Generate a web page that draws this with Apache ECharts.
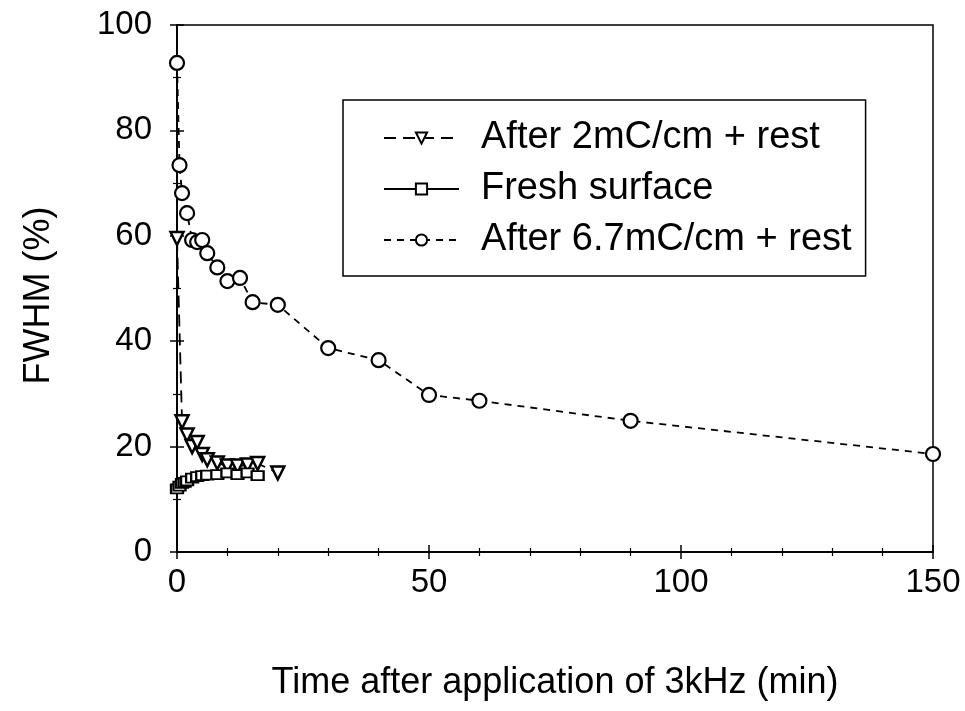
<!DOCTYPE html>
<html>
<head>
<meta charset="utf-8">
<script src="https://cdn.jsdelivr.net/npm/echarts@6/dist/echarts.min.js"></script>
<style>
  html, body { margin: 0; padding: 0; background: #fff; }
  #chart { width: 965px; height: 711px; }
</style>
</head>
<body>
<div id="chart"></div>
<script>
// After 2mC/cm + rest (down triangles)
var tri_t = [0, 1, 2, 3, 4, 5, 6, 8, 10, 12, 14, 16, 20];
var tri_v = [59.5, 24.7, 22.2, 20, 20.8, 18.5, 17.5, 16.9, 16.3, 16.3, 16.5, 16.8, 15];

// Fresh surface (squares)
var sq_t = [0, 0.5, 1, 1.5, 2, 3, 4, 5, 6, 8, 10, 12, 14, 16];
var sq_v = [12, 12.5, 13, 13.2, 13.5, 14, 14.3, 14.5, 14.6, 14.7, 15, 14.7, 15, 14.5];

// After 6.7mC/cm + rest (circles)
var circ_t = [0, 0.5, 1, 2, 3, 4, 5, 6, 8, 10, 12.5, 15, 20, 30, 40, 50, 60, 90, 150];
var circ_v = [92.8, 73.4, 68.1, 64.3, 59.2, 58.8, 59.2, 56.7, 54, 51.4, 52, 47.4, 46.9, 38.7, 36.4, 29.8, 28.7, 24.9, 18.6];

var names = ['After 2mC/cm + rest', 'Fresh surface', 'After 6.7mC/cm + rest'];

function pairs(t, v) {
    var out = [];
    for (var i = 0; i < t.length; i++) out.push([t[i], v[i]]);
    return out;
}

var font = 'Liberation Sans';
var chart = echarts.init(document.getElementById('chart'));

var tickStyle = { inside: true, length: 7, lineStyle: { color: '#000', width: 1.5 } };
var minorStyle = { show: true, length: 4, lineStyle: { color: '#000', width: 1.2 } };

chart.setOption({
    animation: false,
    backgroundColor: '#fff',
    textStyle: { fontFamily: font, color: '#000' },
    grid: {
        left: 177, right: 32, top: 25, bottom: 159,
        show: true, borderColor: '#000', borderWidth: 1.5, backgroundColor: 'transparent'
    },
    legend: {
        orient: 'vertical',
        left: 343, top: 100,
        padding: [18, 14, 16, 40],
        itemGap: 11,
        itemWidth: 75, itemHeight: 14,
        borderColor: '#000', borderWidth: 1.5,
        textStyle: { fontSize: 38, fontFamily: font, color: '#000', lineHeight: 40, padding: [0, 0, 0, 17] },
        data: names
    },
    xAxis: [{
        type: 'value', min: 0, max: 150, interval: 50,
        name: 'Time after application of 3kHz (min)',
        nameLocation: 'middle', nameGap: 113,
        nameTextStyle: { fontSize: 36, fontFamily: font, color: '#000' },
        axisLine: { show: true, lineStyle: { color: '#000', width: 1.5 } },
        axisTick: tickStyle,
        minorTick: Object.assign({ splitNumber: 5 }, minorStyle),
        axisLabel: { fontSize: 33, color: '#000', margin: 14, fontFamily: font },
        splitLine: { show: false }
    }, {
        type: 'value', min: 0, max: 150, interval: 50, position: 'top',
        axisLine: { show: true, lineStyle: { color: '#000', width: 1.5 } },
        axisTick: tickStyle,
        minorTick: Object.assign({ splitNumber: 5 }, minorStyle),
        axisLabel: { show: false },
        splitLine: { show: false }
    }],
    yAxis: [{
        type: 'value', min: 0, max: 100, interval: 20,
        name: 'FWHM (%)',
        nameLocation: 'middle', nameGap: 120,
        nameTextStyle: { fontSize: 36, fontFamily: font, color: '#000', padding: [0, 14, 0, 0] },
        axisLine: { show: true, lineStyle: { color: '#000', width: 1.5 } },
        axisTick: tickStyle,
        minorTick: Object.assign({ splitNumber: 2 }, minorStyle),
        axisLabel: { fontSize: 33, color: '#000', margin: 25, fontFamily: font },
        splitLine: { show: false }
    }, {
        type: 'value', min: 0, max: 100, interval: 20, position: 'right',
        axisLine: { show: true, lineStyle: { color: '#000', width: 1.5 } },
        axisTick: tickStyle,
        minorTick: Object.assign({ splitNumber: 2 }, minorStyle),
        axisLabel: { show: false },
        splitLine: { show: false }
    }],
    series: [{
        name: names[0],
        type: 'line',
        data: pairs(tri_t, tri_v),
        symbol: 'triangle', symbolRotate: 180, symbolSize: 13,
        itemStyle: { color: '#fff', borderColor: '#000', borderWidth: 2.5 },
        lineStyle: { color: '#000', width: 1.8, type: [12, 7] }
    }, {
        name: names[1],
        type: 'line',
        data: pairs(sq_t, sq_v),
        symbol: 'rect', symbolSize: [12, 9],
        itemStyle: { color: '#fff', borderColor: '#000', borderWidth: 2 },
        lineStyle: { color: '#000', width: 1.8 }
    }, {
        name: names[2],
        type: 'line',
        data: pairs(circ_t, circ_v),
        symbol: 'circle', symbolSize: 14,
        itemStyle: { color: '#fff', borderColor: '#000', borderWidth: 2.2 },
        lineStyle: { color: '#000', width: 1.8, type: [7, 6] }
    }]
});
</script>
</body>
</html>
